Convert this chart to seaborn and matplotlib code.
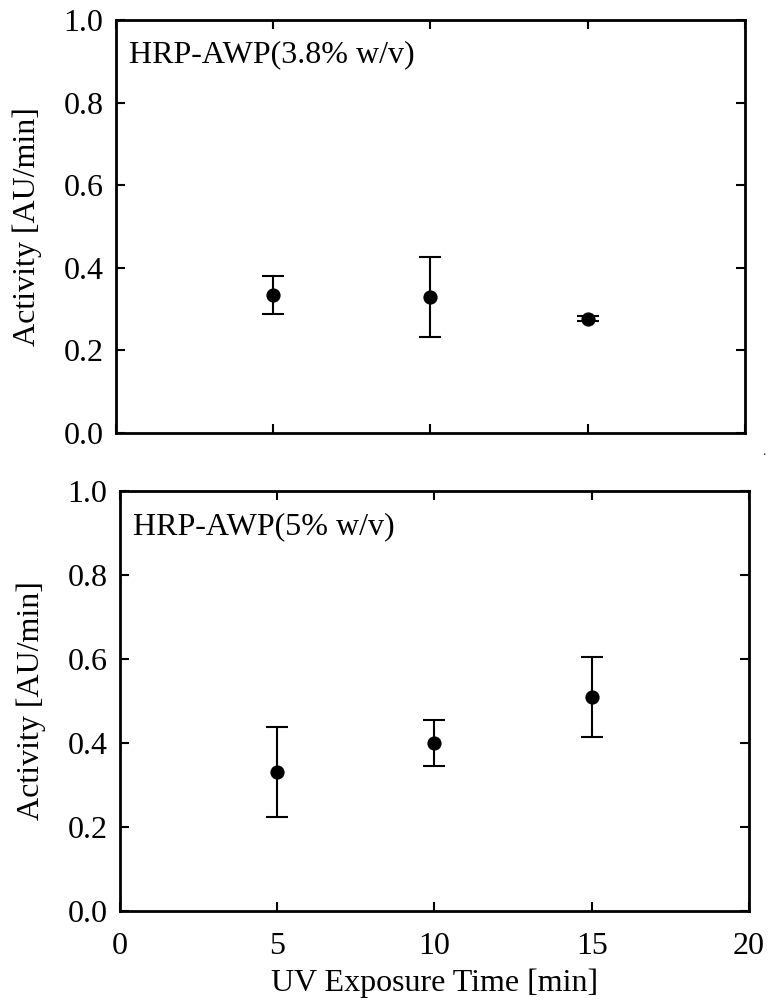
import matplotlib
matplotlib.use("Agg")
import matplotlib.pyplot as plt
import seaborn as sns
import pandas as pd
from matplotlib.ticker import FormatStrFormatter

# ---- data ----
time_min = [5, 10, 15]
act_38 = [0.334, 0.330, 0.277]
err_38 = [0.046, 0.097, 0.006]
act_50 = [0.332, 0.400, 0.510]
err_50 = [0.107, 0.055, 0.095]
labels = ["HRP-AWP(3.8% w/v)", "HRP-AWP(5% w/v)"]
x_ticks = [0, 5, 10, 15, 20]
y_ticks = [0.0, 0.2, 0.4, 0.6, 0.8, 1.0]
xlabel = "UV Exposure Time [min]"
ylabel = "Activity [AU/min]"

sns.set_theme(style="ticks")
plt.rcParams["font.family"] = ["Liberation Serif", "DejaVu Serif"]
plt.rcParams["mathtext.fontset"] = "stix"

FS = 23
fig = plt.figure(figsize=(7.7, 10.07), dpi=100)
ax1 = fig.add_axes([0.1506, 0.5700, 0.8169, 0.4101])
ax2 = fig.add_axes([0.1558, 0.0953, 0.8169, 0.4171])

for ax, y, e, lab in [(ax1, act_38, err_38, labels[0]), (ax2, act_50, err_50, labels[1])]:
    df = pd.DataFrame({"t": time_min, "a": y, "e": e})
    ax.errorbar(df["t"], df["a"], yerr=df["e"], fmt="none", ecolor="black",
                elinewidth=1.5, capsize=8, capthick=1.5, zorder=2)
    sns.scatterplot(data=df, x="t", y="a", ax=ax, color="black", s=105,
                    edgecolor="black", linewidth=0, zorder=3, legend=False)
    ax.set_xlim(0, 20)
    ax.set_ylim(0, 1.0)
    ax.set_xticks(x_ticks)
    ax.set_yticks(y_ticks)
    ax.yaxis.set_major_formatter(FormatStrFormatter("%.1f"))
    ax.tick_params(axis="both", which="major", direction="in", length=6.5, width=1.5,
                   top=True, right=True, labelsize=FS, colors="black")
    ax.tick_params(axis="y", pad=9)
    ax.tick_params(axis="x", pad=15)
    for sp in ax.spines.values():
        sp.set_visible(True)
        sp.set_linewidth(2.0)
        sp.set_color("black")
    ax.set_ylabel(ylabel, fontsize=FS, color="black")
    ax.yaxis.set_label_coords(-0.118, 0.5)
    ax.set_xlabel("")
    ax.text(0.021, 0.915, lab, transform=ax.transAxes, fontsize=FS,
            ha="left", va="center", color="black")

ax1.tick_params(axis="x", labelbottom=False)
ax2.set_xlabel(xlabel, fontsize=FS, color="black")
ax2.xaxis.set_label_coords(0.5, -0.136)

fig.text(764 / 770, 1 - 451 / 1007, ".", fontsize=10, ha="center", va="center")

fig.savefig("out.png", dpi=100)
